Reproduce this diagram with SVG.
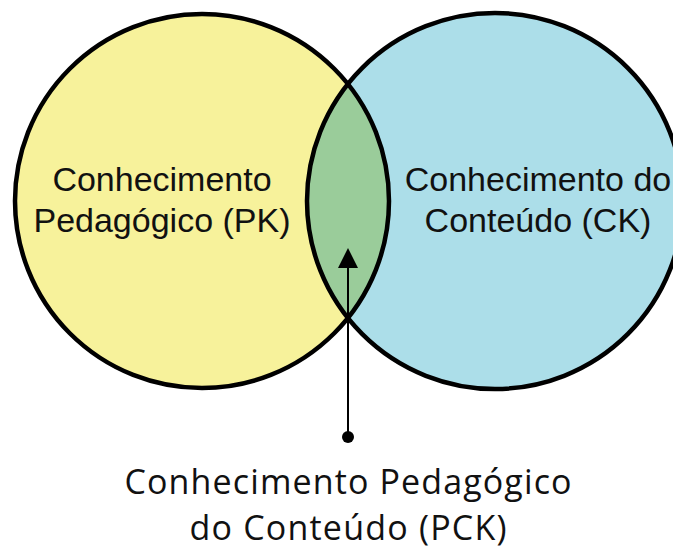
<svg xmlns="http://www.w3.org/2000/svg" width="673" height="550" viewBox="0 0 673 550">
  <style>
    .ring { fill: none; stroke: #000; stroke-width: 4.5; }
    .lbl { font-family: "Liberation Sans", Arial, sans-serif; font-size: 34px; fill: #111; text-anchor: middle; }
    .cap { font-family: "Open Sans", "Noto Sans", sans-serif; font-size: 34px; fill: #111; text-anchor: middle; }
    .conn { stroke: #000; stroke-width: 2; fill: none; }
  </style>
  <rect width="673" height="550" fill="#fff"/>
  <g id="pk">
    <circle cx="202" cy="201" r="187" fill="#F7F29B"/>
  </g>
  <g id="ck">
    <circle cx="495" cy="201" r="188" fill="#ACDEE9"/>
  </g>
  <g id="pck">
    <path d="M348 84 A187 187 0 0 1 348 318 A188 188 0 0 1 348 84 Z" fill="#9ACC9A"/>
  </g>
  <g id="outlines">
    <circle class="ring" cx="202" cy="201" r="187"/>
    <circle class="ring" cx="495" cy="201" r="188"/>
  </g>
  <g id="pk-label">
    <text class="lbl" x="162" y="191">Conhecimento</text>
    <text class="lbl" x="162" y="232">Pedagógico (PK)</text>
  </g>
  <g id="ck-label">
    <text class="lbl" x="538" y="191">Conhecimento do</text>
    <text class="lbl" x="538" y="232">Conteúdo (CK)</text>
  </g>
  <g id="connectors">
    <line class="conn" x1="348" y1="437" x2="348" y2="262"/>
    <path d="M348 248 L338 268 L358 268 Z" fill="#000"/>
    <circle cx="348" cy="437" r="6" fill="#000"/>
  </g>
  <g id="pck-label">
    <text class="cap" x="348" y="494" textLength="447" lengthAdjust="spacing">Conhecimento Pedagógico</text>
    <text class="cap" x="348" y="540" textLength="317" lengthAdjust="spacing">do Conteúdo (PCK)</text>
  </g>
</svg>
